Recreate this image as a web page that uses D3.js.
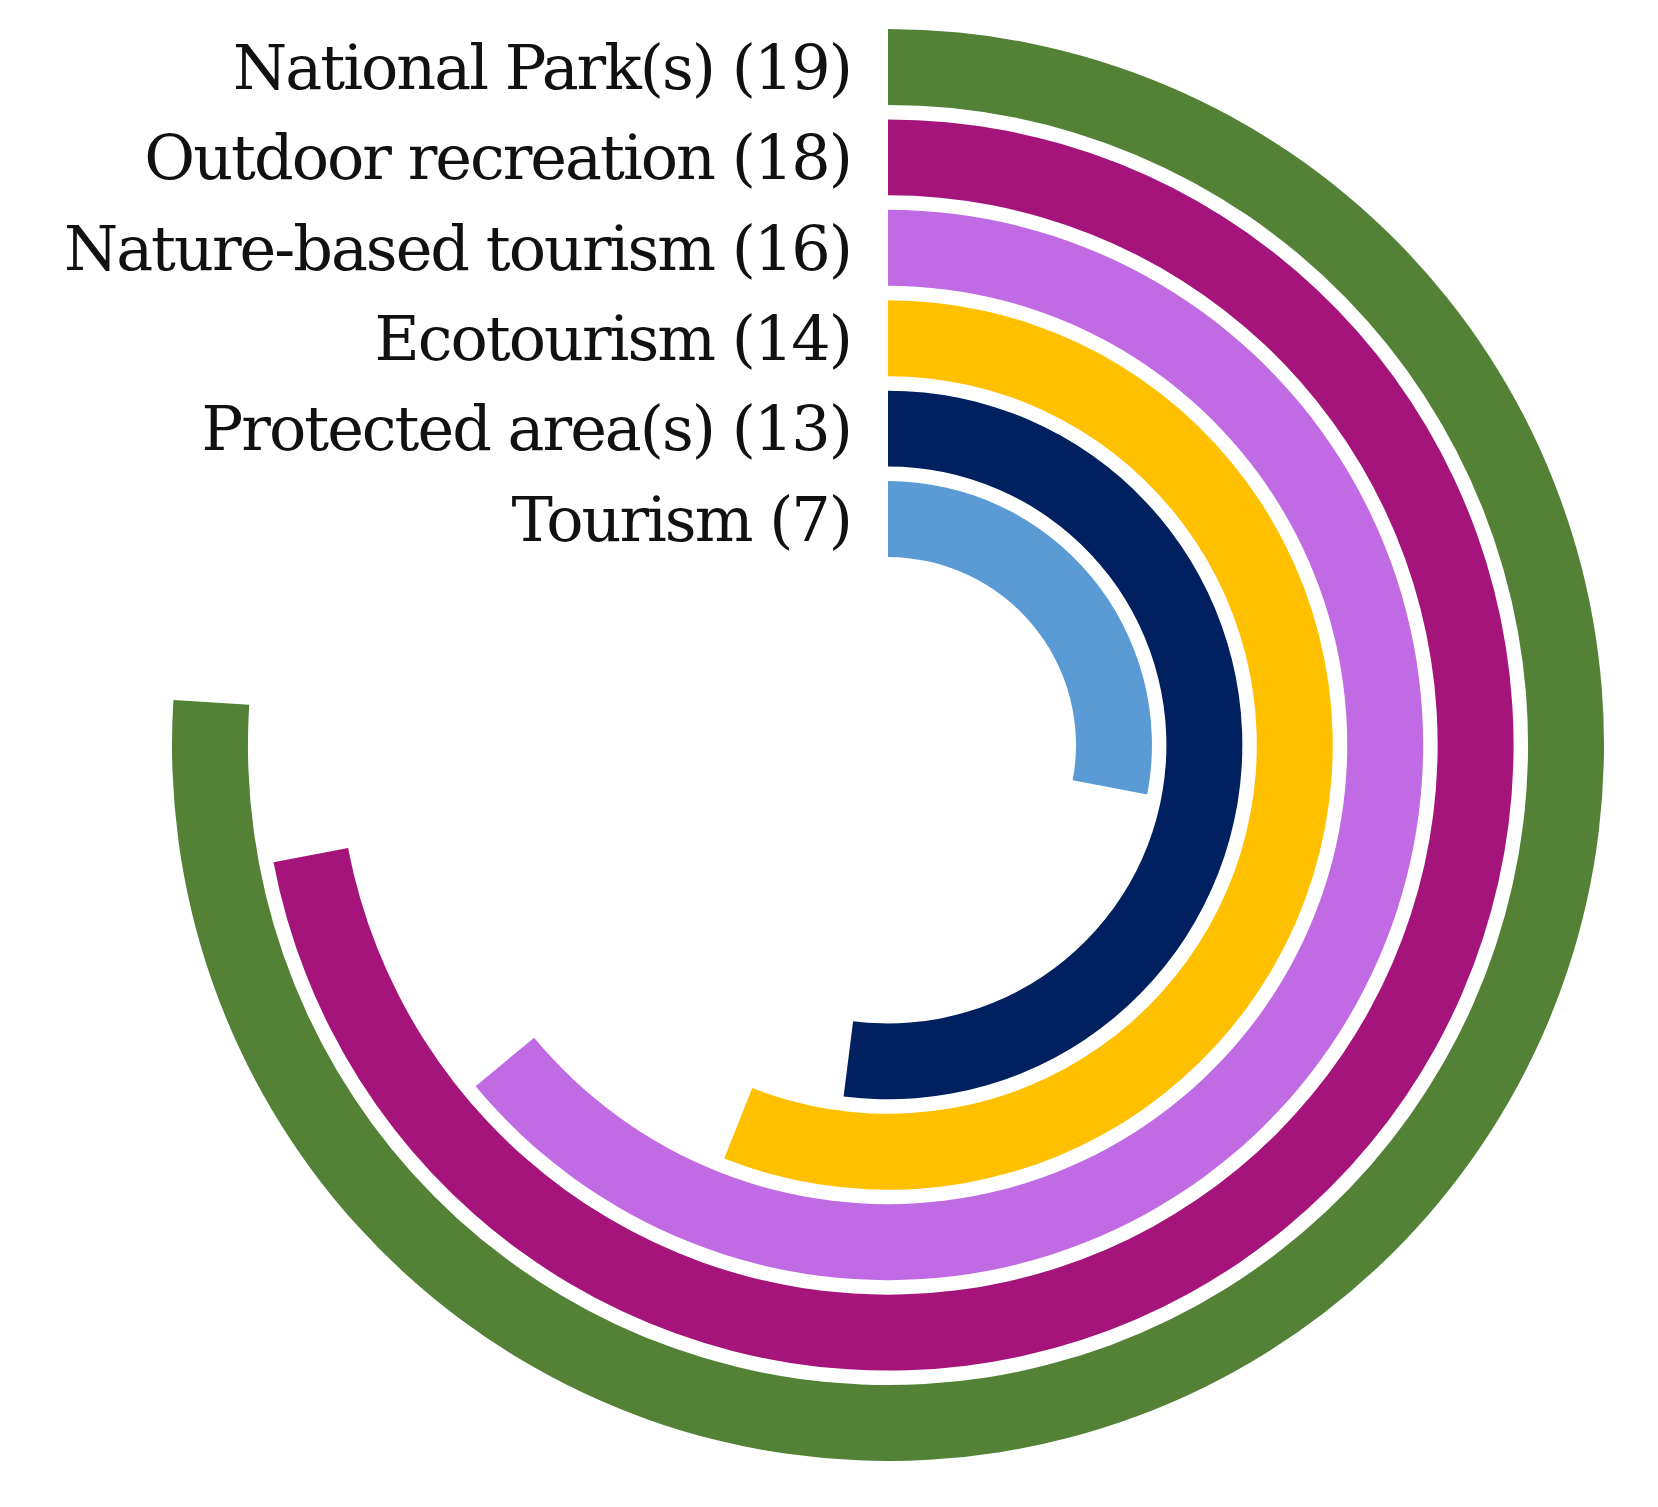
<!DOCTYPE html>
<html><head><meta charset="utf-8">
<script src="https://cdn.jsdelivr.net/npm/d3@7"></script>
<style>body{margin:0;background:#fff}</style></head>
<body><svg id="c" width="1658" height="1507"></svg>
<script>
const categories=["National Park(s)","Outdoor recreation","Nature-based tourism","Ecotourism","Protected area(s)","Tourism"];
const values=[19,18,16,14,13,7];
const colors=["#538135","#a5147a","#c06ae3","#ffc000","#002060","#5b9bd5"];
const svg=d3.select("#c");
const cx=888,cy=745;
const angle=d3.scaleLinear().domain([0,25]).range([0,2*Math.PI]);
const band=d3.scaleBand().domain(categories).range([716,188]).paddingInner(0.16).paddingOuter(0);
const g=svg.append("g").attr("transform",`translate(${cx},${cy})`);
const arc=d3.arc();
categories.forEach((c,i)=>{
  const ri=band(c), ro=ri+band.bandwidth();
  g.append("path").attr("fill",colors[i]).attr("d",arc({innerRadius:ri,outerRadius:ro,startAngle:0,endAngle:angle(values[i])}));
  g.append("text").attr("x",-37).attr("y",-(ro+ri)/2).attr("dy","0.35em")
   .attr("text-anchor","end").attr("font-family","DejaVu Serif").attr("font-size",62)
   .attr("letter-spacing","-2").attr("fill","#111").text(`${c} (${values[i]})`);
});
</script></body></html>
